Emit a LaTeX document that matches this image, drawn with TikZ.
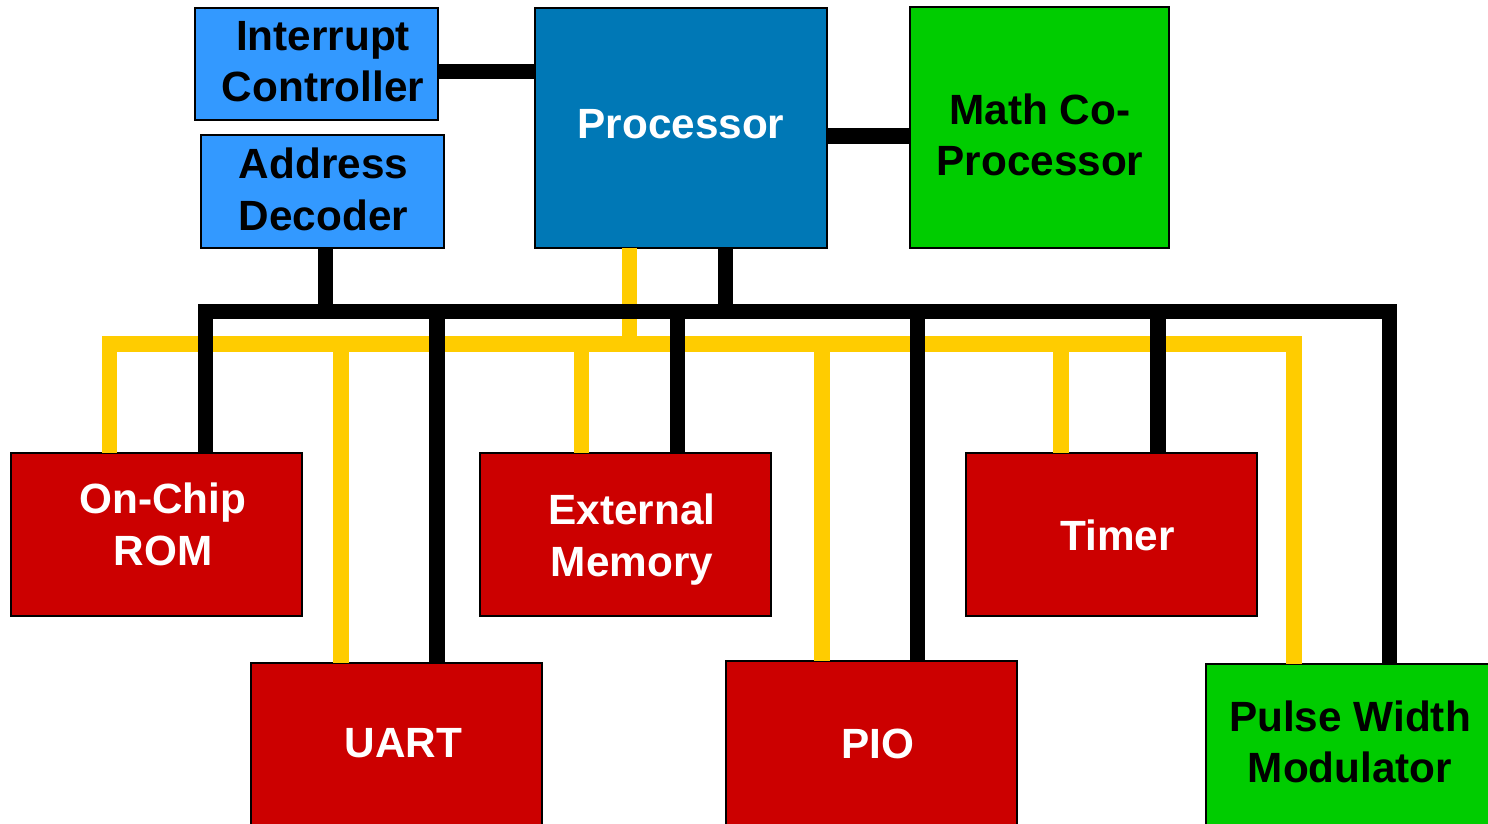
\documentclass[tikz,border=0pt]{standalone}
\usepackage{fontspec}
\setmainfont{Liberation Sans}
\definecolor{ltblue}{RGB}{51,153,255}
\definecolor{cpublue}{RGB}{0,120,182}
\definecolor{chipgreen}{RGB}{0,204,0}
\definecolor{chipred}{RGB}{204,0,0}
\definecolor{busyellow}{RGB}{255,204,0}
\tikzset{
  blk/.style={draw=black, line width=2pt, inner sep=0pt, outer sep=0pt, anchor=north west},
  lbl/.style={align=center, inner sep=0pt, font=\fontsize{42.3}{51.5}\selectfont\bfseries},
  bk/.style={draw=black, line width=15.5pt},
  yl/.style={draw=busyellow, line width=15.5pt},
}
\begin{document}
\begin{tikzpicture}[x=1pt, y=-1pt]
  \useasboundingbox (0,0) rectangle (1488,824);
  \clip (0,0) rectangle (1488,824);

  % blocks
  \node[blk, fill=ltblue, minimum width=243pt, minimum height=112pt] (ic) at (195,8) {};
  \node[blk, fill=ltblue, minimum width=243pt, minimum height=112.5pt] (ad) at (201,135.5) {};
  \node[blk, fill=cpublue, minimum width=291.5pt, minimum height=239.5pt] (proc) at (535,8) {};
  \node[blk, fill=chipgreen, minimum width=258.5pt, minimum height=240.5pt] (math) at (910,7.5) {};
  \node[blk, fill=chipred, minimum width=291pt, minimum height=163pt] (rom) at (11,453) {};
  \node[blk, fill=chipred, minimum width=291pt, minimum height=163pt] (ext) at (480,453) {};
  \node[blk, fill=chipred, minimum width=291.5pt, minimum height=163pt] (timer) at (965.5,453) {};
  \node[blk, fill=chipred, minimum width=291pt, minimum height=200pt] (uart) at (251,663) {};
  \node[blk, fill=chipred, minimum width=291.5pt, minimum height=200pt] (pio) at (725.5,661) {};
  \node[blk, fill=chipgreen, minimum width=300pt, minimum height=200pt] (pwm) at (1205.5,663.5) {};

  % bus corners
  \coordinate (yL) at (109.5,344);
  \coordinate (yR) at (1294,344);
  \coordinate (bL) at (205.5,311.5);
  \coordinate (bR) at (1389.5,311.5);

  % yellow bus
  \draw[yl] (proc.south -| 629.5,0) -- (629.5,344);
  \draw[yl] (rom.north -| yL) -- (yL) -- (yR) -- (pwm.north -| yR);
  \draw[yl] (341,344) -- (uart.north -| 341,0);
  \draw[yl] (581.3,344) -- (ext.north -| 581.3,0);
  \draw[yl] (822,344) -- (pio.north -| 822,0);
  \draw[yl] (1061,344) -- (timer.north -| 1061,0);

  % black bus
  \draw[bk] (rom.north -| bL) -- (bL) -- (bR) -- (pwm.north -| bR);
  \draw[bk] (ad.south -| 325.6,0) -- (325.6,311.5);
  \draw[bk] (proc.south -| 725.5,0) -- (725.5,311.5);
  \draw[bk] (437,311.5) -- (uart.north -| 437,0);
  \draw[bk] (677.5,311.5) -- (ext.north -| 677.5,0);
  \draw[bk] (917.5,311.5) -- (pio.north -| 917.5,0);
  \draw[bk] (1158,311.5) -- (timer.north -| 1158,0);

  % point-to-point links
  \draw[bk] (ic.east |- 0,71.5) -- (proc.west |- 0,71.5);
  \draw[bk] (proc.east |- 0,135.8) -- (math.west |- 0,135.8);

  % labels
  \node[lbl, text=black] (ictx) at (323,61.5) {Interrupt\\Controller};
  \node[lbl, text=black] (adtx) at (323.5,189.5) {Address\\Decoder};
  \node[lbl, text=white] (proctx) at (681,124.5) {Processor};
  \node[lbl, text=black] (mathtx) at (1040,134.7) {Math Co-\\Processor};
  \node[lbl, text=white] (romtx) at (163,524.5) {On-Chip\\ROM};
  \node[lbl, text=white] (exttx) at (632,539.8) {External\\Memory};
  \node[lbl, text=white] (timertx) at (1117.5,535.5) {Timer};
  \node[lbl, text=white] (uarttx) at (403.5,743.5) {UART};
  \node[lbl, text=white] (piotx) at (877.5,743.5) {PIO};
  \node[lbl, text=black] (pwmtx) at (1350,741.8) {Pulse Width\\Modulator};
\end{tikzpicture}
\end{document}
